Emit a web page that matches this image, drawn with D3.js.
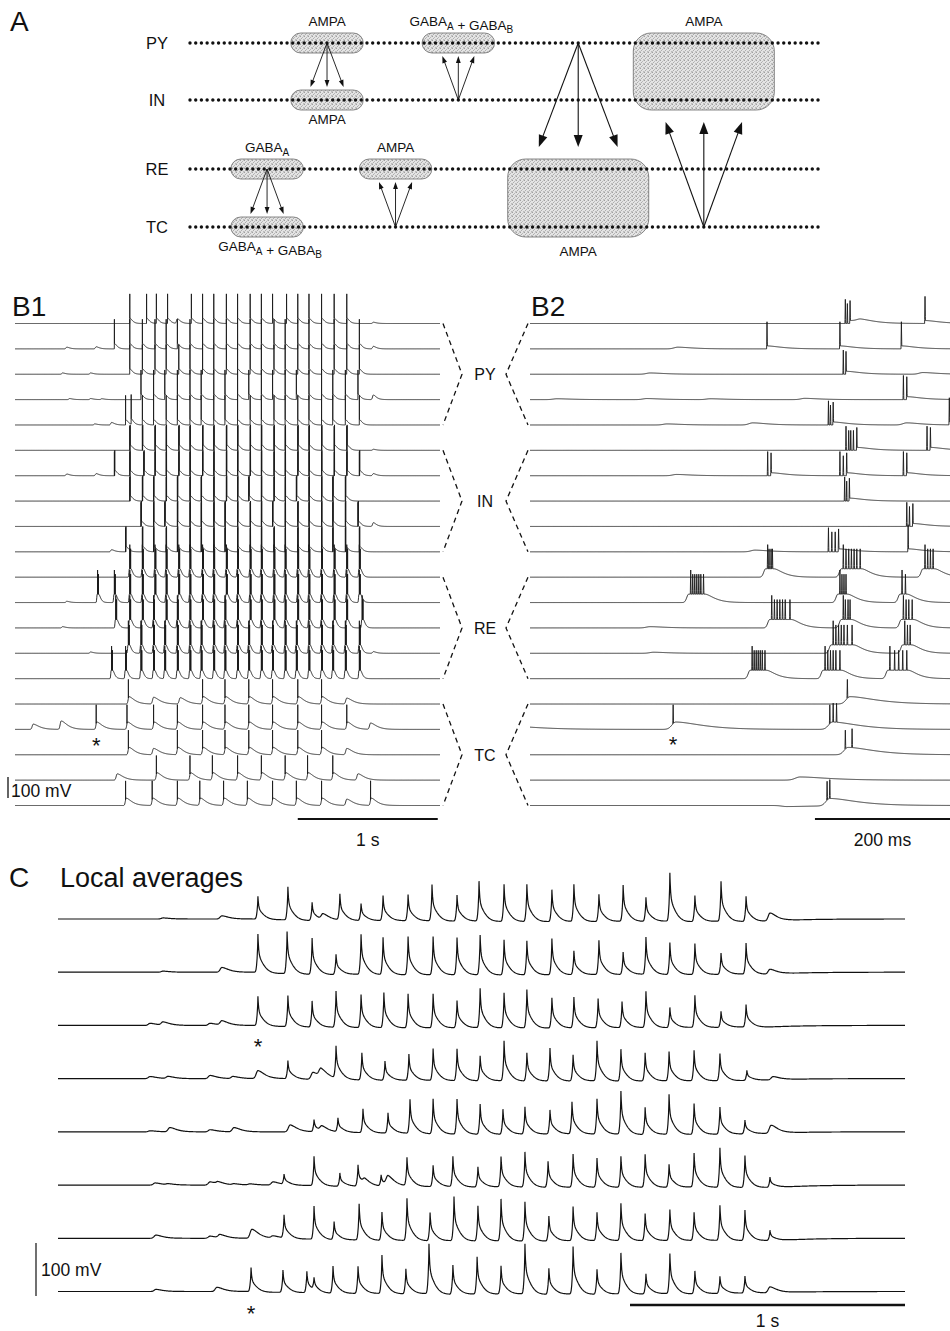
<!DOCTYPE html>
<html>
<head>
<meta charset="utf-8">
<script src="https://cdn.jsdelivr.net/npm/d3@7/dist/d3.min.js"></script>
<style>
body { margin: 0; background: #fff; }
svg { display: block; }
text { font-family: "Liberation Sans", Arial, Helvetica, sans-serif; fill: #111; }
</style>
</head>
<body>
<script>
// ---------- panel A: network scheme ----------
var layers = ['PY', 'IN', 'RE', 'TC'];
var nNeurons = 111;
var boxes = [
  {layers: ['PY'], center: 24, half: 6, label: 'AMPA', side: 'above'},
  {layers: ['IN'], center: 24, half: 6, label: 'AMPA', side: 'below'},
  {layers: ['PY'], center: 47, half: 6, label: 'GABA_A + GABA_B', side: 'above'},
  {layers: ['RE'], center: 13.5, half: 6, label: 'GABA_A', side: 'above'},
  {layers: ['TC'], center: 13.5, half: 6, label: 'GABA_A + GABA_B', side: 'below'},
  {layers: ['RE'], center: 36, half: 6, label: 'AMPA', side: 'above'},
  {layers: ['RE', 'TC'], center: 68, half: 12, label: 'AMPA', side: 'below'},
  {layers: ['PY', 'IN'], center: 90, half: 12, label: 'AMPA', side: 'above'}
];
var projections = [
  {from: 'PY', to: 'IN', center: 24, spread: 2.9},
  {from: 'IN', to: 'PY', center: 47, spread: 2.8},
  {from: 'RE', to: 'TC', center: 13.5, spread: 2.9},
  {from: 'TC', to: 'RE', center: 36, spread: 2.9},
  {from: 'PY', to: 'RE', center: 68, spread: 6.9},
  {from: 'TC', to: 'IN', center: 90, spread: 6.7}
];

// ---------- panel B: 5 cells of each type ----------
var cellTypes = ['PY', 'IN', 'RE', 'TC'];

// B1 spike times (s)
var b1Spikes = [
  [0.82, 0.94, 1.01, 1.09, 1.26, 1.34, 1.42, 1.51, 1.59, 1.68, 1.76, 1.84, 1.94, 2.02, 2.10, 2.19, 2.28, 2.37],
  [0.71, 0.82, 0.91, 1.0, 1.08, 1.16, 1.25, 1.34, 1.42, 1.51, 1.59, 1.68, 1.76, 1.85, 1.93, 2.02, 2.10, 2.19, 2.28, 2.37, 2.46],
  [0.82, 0.91, 1.0, 1.08, 1.17, 1.25, 1.34, 1.42, 1.51, 1.59, 1.68, 1.76, 1.85, 1.93, 2.02, 2.10, 2.19, 2.28, 2.37, 2.46],
  [0.9, 0.99, 1.07, 1.16, 1.25, 1.33, 1.42, 1.5, 1.59, 1.67, 1.76, 1.84, 1.93, 2.01, 2.1, 2.19, 2.27, 2.36, 2.45],
  [0.79, 0.83, 0.91, 0.99, 1.08, 1.16, 1.25, 1.33, 1.42, 1.5, 1.59, 1.68, 1.76, 1.85, 1.93, 2.02, 2.1, 2.19, 2.27, 2.36, 2.46],
  [0.82, 0.91, 1.0, 1.08, 1.17, 1.25, 1.34, 1.42, 1.51, 1.59, 1.68, 1.76, 1.85, 1.93, 2.02, 2.1, 2.19, 2.28, 2.37],
  [0.71, 0.82, 0.92, 1.0, 1.08, 1.17, 1.25, 1.34, 1.42, 1.51, 1.59, 1.68, 1.76, 1.85, 1.93, 2.02, 2.1, 2.19, 2.28, 2.37, 2.46],
  [0.82, 0.91, 0.99, 1.08, 1.16, 1.25, 1.33, 1.42, 1.51, 1.59, 1.67, 1.76, 1.85, 1.93, 2.01, 2.1, 2.19, 2.27, 2.36],
  [0.9, 0.99, 1.07, 1.16, 1.25, 1.33, 1.42, 1.5, 1.59, 1.68, 1.76, 1.84, 1.93, 2.02, 2.1, 2.19, 2.27, 2.36, 2.45],
  [0.79, 0.91, 0.99, 1.08, 1.16, 1.25, 1.33, 1.42, 1.5, 1.59, 1.68, 1.76, 1.85, 1.93, 2.02, 2.1, 2.19, 2.27, 2.36, 2.46],
  [0.82, 0.91, 1.0, 1.08, 1.17, 1.25, 1.34, 1.42, 1.51, 1.59, 1.68, 1.76, 1.85, 1.93, 2.02, 2.1, 2.19, 2.28, 2.37, 2.46],
  [0.59, 0.71, 0.82, 0.91, 1.0, 1.08, 1.17, 1.25, 1.34, 1.42, 1.51, 1.59, 1.68, 1.76, 1.85, 1.93, 2.02, 2.1, 2.19, 2.28, 2.37, 2.46],
  [0.72, 0.82, 0.91, 0.99, 1.08, 1.16, 1.25, 1.34, 1.42, 1.5, 1.59, 1.68, 1.76, 1.85, 1.93, 2.02, 2.1, 2.19, 2.28, 2.37, 2.48],
  [0.81, 0.9, 0.99, 1.07, 1.16, 1.25, 1.33, 1.42, 1.5, 1.59, 1.67, 1.76, 1.84, 1.93, 2.01, 2.1, 2.19, 2.27, 2.36, 2.46],
  [0.69, 0.79, 0.9, 0.99, 1.07, 1.16, 1.25, 1.33, 1.42, 1.5, 1.59, 1.67, 1.76, 1.84, 1.93, 2.01, 2.1, 2.19, 2.27, 2.36, 2.46],
  [0.81, 1.34, 1.5, 1.67, 1.84, 2.02, 2.19],
  [0.58, 0.8, 0.99, 1.16, 1.34, 1.5, 1.67, 1.84, 2.02, 2.19, 2.37],
  [0.81, 1.16, 1.34, 1.5, 1.67, 1.84, 2.02, 2.19],
  [1.01, 1.25, 1.41, 1.59, 1.76, 1.93, 2.09, 2.27],
  [0.79, 0.98, 1.16, 1.32, 1.49, 1.66, 1.84, 2.01, 2.19, 2.54]
];
// B1 subthreshold events [time (s), amplitude (mV)]
var b1Bumps = [
  [[1.16, 22], [2.56, 6]],
  [[0.37, 8], [0.58, 10], [2.56, 12]],
  [[0.34, 6], [0.54, 6]],
  [[0.39, 5], [0.54, 5], [0.62, 4], [2.56, 22]],
  [[0.57, 5], [0.69, 12]],
  [[2.56, 5]],
  [[0.37, 8], [0.58, 10], [2.56, 10]],
  [],
  [[2.56, 18]],
  [[0.69, 10]],
  [],
  [[0.37, 6]],
  [[0.34, 6]],
  [[0.54, 6], [2.56, 8]],
  [],
  [[0.99, 32], [1.18, 30], [2.37, 28]],
  [[0.13, 25], [0.33, 40], [2.54, 30]],
  [[0.99, 30], [2.37, 30]],
  [[0.73, 30], [2.45, 30]],
  [[2.37, 30]]
];

// B2 spike times (ms)
var b2Spikes = [
  [467, 470, 474, 585],
  [351, 459, 550],
  [464, 468],
  [553, 558],
  [442, 445, 449, 621],
  [468, 472, 475, 479, 484, 588, 593],
  [352, 357, 459, 464, 469, 553, 558],
  [466, 469, 473],
  [558, 562, 567],
  [442, 447, 452, 457, 560],
  [352, 354, 357, 359, 464, 468, 472, 476, 480, 484, 489, 585, 589, 593, 597],
  [238, 241, 244, 247, 250, 253, 257, 459, 462, 465, 468, 551, 556],
  [358, 362, 366, 370, 374, 378, 385, 464, 467, 471, 474, 553, 557, 561, 566],
  [449, 453, 457, 461, 465, 470, 477, 555, 559, 563],
  [329, 332, 335, 338, 341, 344, 348, 437, 441, 445, 449, 453, 459, 533, 540, 546, 552, 558],
  [470],
  [212, 444, 449, 454],
  [467, 477],
  [],
  [440, 444]
];
// B2 subthreshold events [time (ms), amplitude (mV)]
var b2Bumps = [
  [[490, 12]],
  [[219, 8]],
  [[178, 6], [582, 8]],
  [[40, 4], [173, 5], [267, 4], [407, 6]],
  [[203, 5], [330, 10], [558, 10]],
  [],
  [[217, 6]],
  [],
  [],
  [[333, 8]],
  [],
  [],
  [[178, 6]],
  [[183, 5]],
  [],
  [],
  [[-30, 15]],
  [],
  [[400, 15]],
  [[380, -5]]
];

// ---------- panel C: local averages, peaks [time (s), amplitude (mV)] ----------
var cPeaks = [
  [[0.382, 2], [0.596, 6], [0.727, 43], [0.836, 62], [0.924, 34], [0.964, 11], [1.025, 49], [1.102, 32], [1.182, 47], [1.273, 49], [1.36, 68], [1.451, 49], [1.531, 75], [1.622, 70], [1.705, 70], [1.796, 60], [1.876, 70], [1.967, 51], [2.055, 68], [2.138, 45], [2.225, 91], [2.316, 49], [2.411, 75], [2.502, 47], [2.589, 15]],
  [[0.382, 2], [0.596, 9], [0.727, 72], [0.833, 79], [0.924, 68], [1.011, 38], [1.102, 75], [1.182, 70], [1.273, 72], [1.364, 72], [1.451, 70], [1.535, 75], [1.622, 66], [1.705, 64], [1.796, 68], [1.876, 45], [1.967, 64], [2.055, 42], [2.138, 70], [2.225, 60], [2.316, 58], [2.411, 40], [2.502, 58], [2.589, 9]],
  [[0.335, 4], [0.382, 6], [0.553, 4], [0.596, 8], [0.727, 55], [0.836, 58], [0.924, 49], [1.011, 68], [1.102, 62], [1.185, 66], [1.273, 64], [1.364, 64], [1.451, 51], [1.535, 74], [1.622, 66], [1.705, 72], [1.796, 57], [1.876, 58], [1.964, 55], [2.051, 49], [2.138, 68], [2.225, 38], [2.316, 60], [2.411, 30], [2.502, 42]],
  [[0.335, 4], [0.4, 4], [0.553, 6], [0.636, 4], [0.727, 15], [0.836, 34], [0.927, 13], [0.956, 15], [1.011, 60], [1.105, 51], [1.189, 36], [1.276, 49], [1.364, 60], [1.451, 60], [1.535, 47], [1.622, 75], [1.705, 53], [1.789, 62], [1.873, 49], [1.96, 75], [2.047, 60], [2.135, 53], [2.222, 55], [2.313, 57], [2.407, 51], [2.505, 19], [2.6, 6]],
  [[0.335, 2], [0.407, 8], [0.553, 4], [0.64, 8], [0.844, 13], [0.931, 23], [0.96, 9], [1.018, 26], [1.109, 45], [1.2, 38], [1.28, 64], [1.364, 66], [1.451, 66], [1.535, 57], [1.618, 47], [1.698, 51], [1.789, 45], [1.869, 60], [1.96, 66], [2.047, 81], [2.135, 51], [2.222, 75], [2.313, 58], [2.407, 51], [2.498, 26], [2.593, 15]],
  [[0.353, 4], [0.4, 2], [0.553, 6], [0.582, 4], [0.64, 2], [0.698, 2], [0.782, 6], [0.822, 19], [0.931, 55], [1.025, 25], [1.091, 40], [1.116, 9], [1.175, 21], [1.2, 17], [1.269, 53], [1.364, 40], [1.436, 57], [1.527, 38], [1.611, 57], [1.698, 66], [1.782, 49], [1.873, 62], [1.96, 55], [2.047, 58], [2.135, 62], [2.222, 43], [2.313, 64], [2.407, 74], [2.498, 60], [2.589, 19]],
  [[0.356, 6], [0.553, 4], [0.589, 6], [0.705, 17], [0.782, 4], [0.822, 43], [0.931, 62], [1.004, 34], [1.095, 68], [1.178, 53], [1.269, 79], [1.353, 53], [1.44, 83], [1.527, 66], [1.611, 79], [1.698, 74], [1.785, 47], [1.873, 64], [1.96, 53], [2.047, 70], [2.135, 51], [2.225, 58], [2.313, 53], [2.407, 66], [2.498, 57], [2.589, 19]],
  [[0.356, 4], [0.578, 8], [0.702, 45], [0.818, 42], [0.905, 40], [0.931, 23], [1.0, 51], [1.091, 51], [1.178, 72], [1.265, 47], [1.349, 94], [1.436, 55], [1.524, 70], [1.611, 53], [1.698, 94], [1.785, 49], [1.873, 89], [1.96, 47], [2.047, 77], [2.138, 38], [2.225, 75], [2.316, 43], [2.407, 32], [2.498, 32], [2.589, 11]]
];
// events marked with an asterisk: [trace index, time]
var b1Star = [16, 0.58];
var b2Star = [16, 212];
var cStars = [[2, 0.727], [7, 0.702]];

// ---------- page ----------
var svg = d3.select('body').append('svg')
    .attr('width', 950)
    .attr('height', 1331);

var defs = svg.append('defs');
var pat = defs.append('pattern')
    .attr('id', 'stipple')
    .attr('width', 4).attr('height', 4)
    .attr('patternUnits', 'userSpaceOnUse');
pat.append('rect').attr('width', 4).attr('height', 4).attr('fill', '#e4e4e4');
[[0, 0, '#a0a0a0'], [2, 1, '#b8b8b8'], [1, 2, '#acacac'], [3, 3, '#bcbcbc'], [3, 0, '#c8c8c8'], [0, 3, '#c4c4c4']]
  .forEach(function(p) {
    pat.append('rect').attr('x', p[0]).attr('y', p[1]).attr('width', 1).attr('height', 1).attr('fill', p[2]);
  });

function panelLabel(x, y, s) {
  svg.append('text').attr('x', x).attr('y', y).style('font-size', '28px').text(s);
}

// text with "_X" subscripts
function subText(sel, str) {
  str.split(/(_[A-Z])/).forEach(function(part) {
    if (!part) return;
    if (part.charAt(0) === '_') {
      sel.append('tspan').attr('dy', 3.5).style('font-size', '10px').text(part.slice(1));
      sel.append('tspan').attr('dy', -3.5).text('');
    } else {
      sel.append('tspan').text(part);
    }
  });
}

// ---------- draw A ----------
panelLabel(10, 31, 'A');
var ax = d3.scaleLinear().domain([0, nNeurons - 1]).range([190, 818]);
var ay = d3.scaleOrdinal().domain(layers).range([43, 100, 169, 227]);
var gA = svg.append('g');

gA.selectAll('.layer-label')
    .data(layers)
    .enter().append('text')
    .attr('x', 157)
    .attr('y', function(d) { return ay(d) + 6; })
    .attr('text-anchor', 'middle')
    .style('font-size', '16.5px')
    .text(function(d) { return d; });

boxes.forEach(function(b) {
  var ys = b.layers.map(ay);
  var top = d3.min(ys) - 10, bottom = d3.max(ys) + 10;
  var x0 = ax(b.center - b.half) - 2, x1 = ax(b.center + b.half) + 2;
  var r = b.layers.length > 1 ? 18 : 10;
  gA.append('rect')
      .attr('x', x0).attr('y', top)
      .attr('width', x1 - x0).attr('height', bottom - top)
      .attr('rx', r).attr('ry', r)
      .attr('fill', 'url(#stipple)')
      .attr('stroke', '#6a6a6a')
      .attr('stroke-width', 0.8);
  var t = gA.append('text')
      .attr('x', ax(b.center) + (b.label.length > 10 ? 3 : 0))
      .attr('y', b.side === 'above' ? top - 7 : bottom + (b.layers.length > 1 ? 19 : 14))
      .attr('text-anchor', 'middle')
      .style('font-size', '13.5px');
  subText(t, b.label);
});

layers.forEach(function(l) {
  gA.selectAll(null)
      .data(d3.range(nNeurons))
      .enter().append('circle')
      .attr('cx', function(d) { return ax(d); })
      .attr('cy', ay(l))
      .attr('r', 1.7)
      .attr('fill', '#111');
});

projections.forEach(function(p) {
  var y0 = ay(p.from), yT = ay(p.to);
  var dir = yT > y0 ? 1 : -1;
  var big = p.spread > 5;
  var yEnd = yT - dir * (big ? 22 : 13);
  var L = big ? 12 : 7, W = big ? 4.5 : 2.4;
  [-1, 0, 1].forEach(function(k) {
    var xs = ax(p.center), xe = ax(p.center + k * p.spread);
    var dx = xe - xs, dy = yEnd - y0, len = Math.sqrt(dx * dx + dy * dy);
    var ux = dx / len, uy = dy / len;
    var bx = xe - ux * L, by = yEnd - uy * L;
    gA.append('line')
        .attr('x1', xs).attr('y1', y0)
        .attr('x2', bx + ux * 2).attr('y2', by + uy * 2)
        .attr('stroke', '#111').attr('stroke-width', big ? 1.1 : 0.9);
    gA.append('path')
        .attr('d', 'M' + xe + ',' + yEnd +
                   'L' + (bx - uy * W) + ',' + (by + ux * W) +
                   'L' + (bx + uy * W) + ',' + (by - ux * W) + 'Z')
        .attr('fill', '#111');
  });
});

// ---------- membrane potential models ----------
function hump(dt, amp, r, d) {
  if (dt < 0) return amp * Math.exp(-(dt / r) * (dt / r));
  return amp * (1 + dt / d) * Math.exp(-dt / d);
}
function spikeK(dt, w) {
  var a = Math.abs(dt);
  return a < w ? 1 - a / w : 0;
}
function groupTimes(ts, gap) {
  var out = [];
  ts.forEach(function(t) {
    var g = out[out.length - 1];
    if (g && t - g[g.length - 1] <= gap) g.push(t); else out.push([t]);
  });
  return out;
}
function cellPotential(type, spikes, bumps, adp) {
  var groups = groupTimes(spikes, 15);
  return function(t) {
    var v = 0;
    groups.forEach(function(g) {
      var a = g[0], b = g[g.length - 1];
      if (t < a - 80 || t > b + 400) return;
      if (type === 'RE') {
        if (t < a - 3) v += 40 * Math.exp(-Math.pow((t - a + 3) / 4, 2));
        else if (t <= b + 2) v += 40;
        else v += hump(t - b - 2, 40, 1, 9);
      } else if (type === 'TC') {
        v += hump(t - a - 4, 35, 8, 26);
      } else if (t >= b) {
        v += adp[0] * (1 + (t - b) / adp[1]) * Math.exp(-(t - b) / adp[1]);
      }
      g.forEach(function(s, k) {
        var amp = type === 'TC' ? 90 : (k ? 95 : 115);
        v += amp * spikeK(t - s, 0.6);
      });
    });
    bumps.forEach(function(b) {
      v += type === 'TC' ? hump(t - b[0], b[1], 10, 28) : hump(t - b[0], b[1], 8, 14);
    });
    return v;
  };
}
function lfpPotential(peaks) {
  return function(t) {
    var v = 0;
    peaks.forEach(function(p) {
      var dt = t - p[0], a = p[1];
      if (dt < -60 || dt > 500) return;
      if (a < 18) { v += hump(dt, a, 9, 16); return; }
      var sharp = dt < 0 ? Math.exp(dt / 1.2) : Math.exp(-dt / 2.5);
      v += a * (0.55 * sharp + 0.45 * hump(dt, 1, 5, 14));
      if (dt > 0) v -= 0.08 * a * (1 - Math.exp(-dt / 10)) * Math.exp(-dt / 120);
    });
    return v;
  };
}
function sampleTrace(fn, tMax, step, marks) {
  var ts = d3.range(0, tMax + step / 2, step);
  marks.forEach(function(s) { ts.push(s - 0.6, s, s + 0.6); });
  ts = ts.filter(function(t) { return t >= 0 && t <= tMax; }).sort(d3.ascending);
  return ts.map(function(t) { return [t, fn(t)]; });
}

// ---------- draw B ----------
var bBase = d3.scaleLinear().domain([0, 19]).range([323.5, 805.5]);
var mvPx = 21 / 100;
var b1x = d3.scaleLinear().domain([0, 3036]).range([15, 440]);
var b2x = d3.scaleLinear().domain([0, 622]).range([530, 950]);
var b1Copies = {PY: [0], IN: [0, 2.5], RE: [0, 3, 6], TC: [0]};

function drawB(g, xs, spikeSets, bumpSets, tMax, step, copies, adp) {
  spikeSets.forEach(function(sp, i) {
    var type = cellTypes[Math.floor(i / 5)];
    var spikes = [];
    sp.forEach(function(s) {
      (copies ? copies[type] : [0]).forEach(function(c) { spikes.push(s + c); });
    });
    spikes.sort(d3.ascending);
    var fn = cellPotential(type, spikes, bumpSets[i], adp);
    var pts = sampleTrace(fn, tMax, step, spikes);
    var y = d3.scaleLinear().domain([0, 100]).range([bBase(i), bBase(i) - 100 * mvPx]);
    g.append('path')
        .attr('d', d3.line().x(function(d) { return xs(d[0]); }).y(function(d) { return y(d[1]); })(pts))
        .attr('fill', 'none')
        .attr('stroke', '#1a1a1a')
        .attr('stroke-width', 0.9);
  });
}

panelLabel(12, 316, 'B1');
panelLabel(531, 316, 'B2');
var gB1 = svg.append('g');
drawB(gB1, b1x,
  b1Spikes.map(function(a) { return a.map(function(t) { return t * 1000; }); }),
  b1Bumps.map(function(a) { return a.map(function(b) { return [b[0] * 1000, b[1]]; }); }),
  3036, 2, b1Copies, [26, 12]);
var gB2 = svg.append('g');
drawB(gB2, b2x, b2Spikes, b2Bumps, 622, 0.5, null, [14, 14]);

// group brackets and labels
cellTypes.forEach(function(type, k) {
  var yTop = bBase(k * 5), yMid = bBase(k * 5 + 2), yBot = bBase(k * 5 + 4);
  [[443, 462], [528, 506]].forEach(function(xx) {
    svg.append('path')
        .attr('d', d3.line()([[xx[0], yTop], [xx[1], yMid], [xx[0], yBot]]))
        .attr('fill', 'none')
        .attr('stroke', '#111')
        .attr('stroke-width', 1.3)
        .attr('stroke-dasharray', '5,4');
  });
  svg.append('text')
      .attr('x', 485).attr('y', yMid + 6)
      .attr('text-anchor', 'middle')
      .style('font-size', '16px')
      .text(type);
});

// scale bars B
var bVolt = d3.scaleLinear().domain([0, 100]).range([798, 777]);
svg.append('line').attr('x1', 8).attr('x2', 8).attr('y1', bVolt(0)).attr('y2', bVolt(100))
    .attr('stroke', '#111').attr('stroke-width', 1.3);
svg.append('text').attr('x', 11).attr('y', 797).style('font-size', '17.5px').text('100 mV');
svg.append('line').attr('x1', b1x(2020)).attr('x2', b1x(3020)).attr('y1', 819).attr('y2', 819)
    .attr('stroke', '#111').attr('stroke-width', 2);
svg.append('text').attr('x', b1x(2520)).attr('y', 846).attr('text-anchor', 'middle')
    .style('font-size', '17.5px').text('1 s');
svg.append('line').attr('x1', b2x(422)).attr('x2', b2x(622)).attr('y1', 819).attr('y2', 819)
    .attr('stroke', '#111').attr('stroke-width', 2);
svg.append('text').attr('x', b2x(522)).attr('y', 846).attr('text-anchor', 'middle')
    .style('font-size', '17.5px').text('200 ms');

svg.append('text').attr('x', b1x(b1Star[1] * 1000)).attr('y', bBase(b1Star[0]) + 24)
    .attr('text-anchor', 'middle').style('font-size', '22px').text('*');
svg.append('text').attr('x', b2x(b2Star[1])).attr('y', bBase(b2Star[0]) + 23)
    .attr('text-anchor', 'middle').style('font-size', '22px').text('*');

// ---------- draw C ----------
panelLabel(9, 887, 'C');
svg.append('text').attr('x', 60).attr('y', 887).style('font-size', '27px').text('Local averages');
var cBase = d3.scaleLinear().domain([0, 7]).range([919, 1291.5]);
var cx = d3.scaleLinear().domain([0, 3.08]).range([58, 905]);
var gC = svg.append('g');
cPeaks.forEach(function(pk, i) {
  var ms = pk.map(function(p) { return [p[0] * 1000, p[1]]; });
  var pts = sampleTrace(lfpPotential(ms), 3080, 2, ms.map(function(p) { return p[0]; }));
  var y = d3.scaleLinear().domain([0, 100]).range([cBase(i), cBase(i) - 53]);
  gC.append('path')
      .attr('d', d3.line().x(function(d) { return cx(d[0] / 1000); }).y(function(d) { return y(d[1]); })(pts))
      .attr('fill', 'none')
      .attr('stroke', '#111')
      .attr('stroke-width', 1.2);
});
cStars.forEach(function(s) {
  svg.append('text').attr('x', cx(s[1])).attr('y', cBase(s[0]) + 29)
      .attr('text-anchor', 'middle').style('font-size', '22px').text('*');
});
var cVolt = d3.scaleLinear().domain([0, 100]).range([1296, 1243]);
svg.append('line').attr('x1', 36).attr('x2', 36).attr('y1', cVolt(0)).attr('y2', cVolt(100))
    .attr('stroke', '#111').attr('stroke-width', 1.2);
svg.append('text').attr('x', 41).attr('y', 1276).style('font-size', '17.5px').text('100 mV');
svg.append('line').attr('x1', cx(2.08)).attr('x2', cx(3.08)).attr('y1', 1305).attr('y2', 1305)
    .attr('stroke', '#111').attr('stroke-width', 2.4);
svg.append('text').attr('x', cx(2.58)).attr('y', 1327).attr('text-anchor', 'middle')
    .style('font-size', '17.5px').text('1 s');
</script>
</body>
</html>
